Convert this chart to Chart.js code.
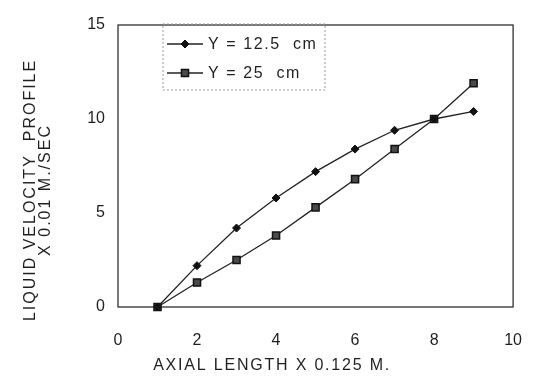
<!DOCTYPE html>
<html lang="en">
<head>
    <meta charset="UTF-8">
    <title>Liquid Velocity Profile</title>
    <script src="https://cdn.jsdelivr.net/npm/chart.js"></script>
    <style>
        html, body {
            margin: 0;
            padding: 0;
            background-color: #ffffff;
        }

        .chart-wrapper {
            position: relative;
            width: 546px;
            height: 386px;
        }
    </style>
</head>
<body>
    <div class="chart-wrapper">
        <canvas id="velocity-chart" width="546" height="386"></canvas>
    </div>

    <script>
        // Dados
        const axialLength = [1, 2, 3, 4, 5, 6, 7, 8, 9];
        const velocityY125 = [0, 2.2, 4.2, 5.8, 7.2, 8.4, 9.4, 10.0, 10.4];
        const velocityY25 = [0, 1.3, 2.5, 3.8, 5.3, 6.8, 8.4, 10.0, 11.9];
        const seriesLabels = ['Y = 12.5  cm', 'Y = 25  cm'];
        const xTicks = [0, 2, 4, 6, 8, 10];
        const yTicks = [0, 5, 10, 15];
        const xTitle = 'AXIAL LENGTH X 0.125 M.';
        const yTitle = ['LIQUID VELOCITY  PROFILE', 'X 0.01 M./SEC'];

        const FONT = "'Liberation Sans', Arial, sans-serif";
        const INK = '#1f1f1f';

        function toPoints(values) {
            return axialLength.map((x, i) => ({ x: x, y: values[i] }));
        }

        // Moldura completa da área do gráfico
        const plotFrame = {
            id: 'plotFrame',
            afterDraw(chart) {
                const { ctx, chartArea: a } = chart;
                ctx.save();
                ctx.strokeStyle = '#1e1e1e';
                ctx.lineWidth = 1.2;
                ctx.strokeRect(a.left, a.top, a.right - a.left, a.bottom - a.top);
                ctx.restore();
            }
        };

        // Títulos dos eixos (espaçados como no original)
        const axisTitles = {
            id: 'axisTitles',
            afterDraw(chart) {
                const { ctx, chartArea: a } = chart;
                ctx.save();
                ctx.fillStyle = INK;
                ctx.font = '16px ' + FONT;
                ctx.letterSpacing = '1.8px';
                ctx.textAlign = 'center';
                ctx.textBaseline = 'middle';
                ctx.fillText(xTitle, a.left + (a.right - a.left) * 0.39, 366);

                ctx.letterSpacing = '2px';
                const cy = a.top + (a.bottom - a.top) * 0.585;
                ctx.translate(31, cy);
                ctx.rotate(-Math.PI / 2);
                ctx.fillText(yTitle[0], 0, 0);
                ctx.fillText(yTitle[1], 0, 15);
                ctx.restore();
            }
        };

        // Legenda com caixa pontilhada dentro do gráfico
        const boxLegend = {
            id: 'boxLegend',
            afterDraw(chart) {
                const { ctx, chartArea: a } = chart;
                const left = a.left + 45;
                const top = a.top - 1;
                ctx.save();
                ctx.strokeStyle = '#9a9a9a';
                ctx.lineWidth = 1;
                ctx.setLineDash([2, 2]);
                ctx.strokeRect(left, top, 162, 66);
                ctx.setLineDash([]);

                chart.data.datasets.forEach((ds, i) => {
                    const y = top + 20 + i * 29;
                    ctx.strokeStyle = ds.borderColor;
                    ctx.lineWidth = ds.borderWidth;
                    ctx.beginPath();
                    ctx.moveTo(left + 4, y);
                    ctx.lineTo(left + 40, y);
                    ctx.stroke();

                    const mx = left + 22;
                    const r = ds.pointRadius;
                    ctx.fillStyle = ds.pointBackgroundColor;
                    ctx.strokeStyle = ds.pointBorderColor;
                    ctx.lineWidth = ds.pointBorderWidth;
                    ctx.beginPath();
                    if (ds.pointStyle === 'rectRot') {
                        ctx.moveTo(mx, y - r);
                        ctx.lineTo(mx + r, y);
                        ctx.lineTo(mx, y + r);
                        ctx.lineTo(mx - r, y);
                        ctx.closePath();
                    } else {
                        const h = r * Math.SQRT1_2;
                        ctx.rect(mx - h, y - h, 2 * h, 2 * h);
                    }
                    ctx.fill();
                    ctx.stroke();

                    ctx.fillStyle = INK;
                    ctx.font = '16px ' + FONT;
                    ctx.letterSpacing = '1.6px';
                    ctx.textAlign = 'left';
                    ctx.textBaseline = 'middle';
                    ctx.fillText(ds.label, left + 45, y + 1);
                    ctx.letterSpacing = '0px';
                });
                ctx.restore();
            }
        };

        const ctx = document.getElementById('velocity-chart').getContext('2d');

        new Chart(ctx, {
            type: 'line',
            data: {
                datasets: [
                    {
                        label: seriesLabels[0],
                        data: toPoints(velocityY125),
                        borderColor: '#222222',
                        borderWidth: 1.3,
                        pointStyle: 'rectRot',
                        pointRadius: 4,
                        pointBackgroundColor: '#111111',
                        pointBorderColor: '#111111',
                        pointBorderWidth: 1,
                        tension: 0,
                        clip: false
                    },
                    {
                        label: seriesLabels[1],
                        data: toPoints(velocityY25),
                        borderColor: '#222222',
                        borderWidth: 1.3,
                        pointStyle: 'rect',
                        pointRadius: 5,
                        pointBackgroundColor: '#4a4a4a',
                        pointBorderColor: '#111111',
                        pointBorderWidth: 1.5,
                        tension: 0,
                        clip: false
                    }
                ]
            },
            options: {
                responsive: false,
                animation: false,
                devicePixelRatio: 1,
                layout: {
                    padding: { top: 25, right: 12, left: 0, bottom: 0 }
                },
                plugins: {
                    legend: { display: false },
                    tooltip: { enabled: false }
                },
                scales: {
                    x: {
                        type: 'linear',
                        min: 0,
                        max: 10,
                        afterBuildTicks: (scale) => {
                            scale.ticks = xTicks.map(v => ({ value: v }));
                        },
                        afterFit: (scale) => {
                            scale.height = 79;
                        },
                        grid: { display: false, drawTicks: false },
                        border: { display: false },
                        ticks: {
                            padding: 24,
                            color: INK,
                            font: { family: FONT, size: 16 }
                        }
                    },
                    y: {
                        type: 'linear',
                        min: 0,
                        max: 15,
                        afterBuildTicks: (scale) => {
                            scale.ticks = yTicks.map(v => ({ value: v }));
                        },
                        afterFit: (scale) => {
                            scale.width = 118;
                        },
                        grid: { display: false, drawTicks: false },
                        border: { display: false },
                        ticks: {
                            padding: 13,
                            color: INK,
                            font: { family: FONT, size: 16 }
                        }
                    }
                }
            },
            plugins: [plotFrame, axisTitles, boxLegend]
        });
    </script>
</body>
</html>
